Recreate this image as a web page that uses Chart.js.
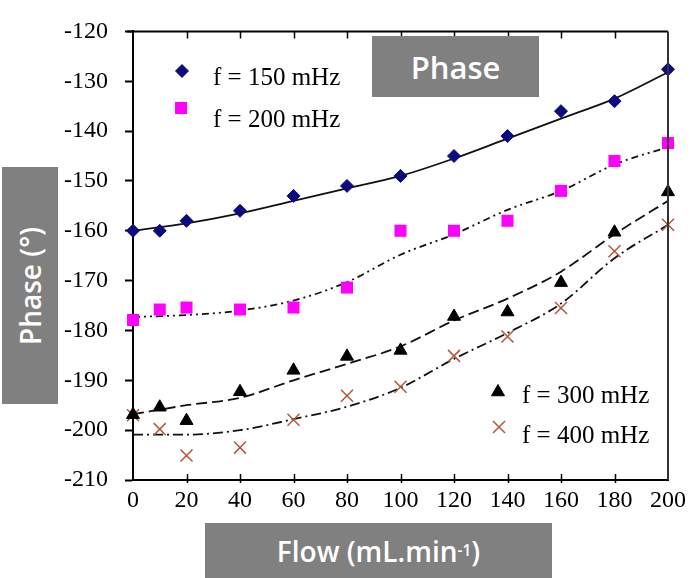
<!DOCTYPE html>
<html>
<head>
<meta charset="utf-8">
<script src="https://cdn.jsdelivr.net/npm/chart.js@4/dist/chart.umd.min.js"></script>
<style>
  html, body { margin: 0; padding: 0; background: #fff; }
  #wrap { position: relative; width: 692px; height: 578px; overflow: hidden; }
  #c { position: absolute; left: 0; top: 0; }
  .tag {
    position: absolute; background: #808080; color: #fff;
    font-family: "Open Sans", "Noto Sans", sans-serif; font-weight: 600;
    display: flex; align-items: center; justify-content: center;
  }
  .tag sup { font-size: 0.55em; vertical-align: 0.8em; line-height: 0; }
</style>
</head>
<body>
<div id="wrap">
  <canvas id="c" width="692" height="578"></canvas>
  <div class="tag" style="left:372px;top:36px;width:167px;height:61px;font-size:31px;">Phase</div>
  <div class="tag" style="left:2px;top:167px;width:56px;height:237px;">
    <span style="display:inline-block;transform:rotate(-90deg);white-space:nowrap;font-size:28px;">Phase (°)</span>
  </div>
  <div class="tag" style="left:205px;top:523px;width:347px;height:55px;font-size:28px;">Flow (mL.min<sup>-1</sup>)</div>
</div>
<script>
// Measured phase (degrees) against flow rate (mL/min) at four frequencies
const flow = [0, 10, 20, 40, 60, 80, 100, 120, 140, 160, 180, 200];
const phase150 = [-160, -160, -158, -156, -153, -151, -149, -145, -141, -136, -134, -127.6];
const phase200 = [-177.9, -175.8, -175.4, -175.8, -175.4, -171.4, -160, -160, -158, -152, -146, -142.4];
const phase300 = [-196.9, -195.4, -198.1, -192.3, -188, -185.2, -184, -177.2, -176.3, -170.4, -160.3, -152.2];
const phase400 = [-197, -199.8, -205.1, -203.5, -197.9, -193.1, -191.3, -185.1, -181.2, -175.5, -164.1, -158.8];

// Fitted trend curves
const fitFlow = [0, 20, 40, 60, 80, 100, 120, 140, 160, 180, 200];
const fit150 = [-160, -158.5, -156.5, -154, -151.5, -149, -145.5, -141.5, -137.5, -133.5, -128.2];
const fit200 = [-177.3, -176.9, -176, -174, -170.3, -164.8, -160.7, -155.8, -152, -146.7, -143.2];
const fit300 = [-196.8, -195, -193.5, -190, -186.7, -183.2, -178, -173.6, -168.2, -160.7, -154];
const fit400 = [-200.9, -200.9, -200, -197.8, -195.3, -191.5, -185.7, -180.5, -174.6, -165.5, -158.8];

const xTicks = [0, 20, 40, 60, 80, 100, 120, 140, 160, 180, 200];
const yTicks = [-210, -200, -190, -180, -170, -160, -150, -140, -130, -120];

const seriesLabels = ['f = 150 mHz', 'f = 200 mHz', 'f = 300 mHz', 'f = 400 mHz'];

const pts = (xs, ys) => xs.map((x, i) => ({ x: x, y: ys[i] }));

const NAVY = '#0b0b7d', MAGENTA = '#ff00ff', BLACK = '#000000', RUST = '#b5583a';
const SERIF = '"Liberation Serif", "DejaVu Serif", serif';

const markerSets = [
  { label: seriesLabels[0], data: pts(flow, phase150), pointStyle: 'rectRot', pointRadius: 6.5, backgroundColor: NAVY, borderColor: NAVY, borderWidth: 1 },
  { label: seriesLabels[1], data: pts(flow, phase200), pointStyle: 'rect', pointRadius: 8.5, backgroundColor: MAGENTA, borderColor: MAGENTA, borderWidth: 0 },
  { label: seriesLabels[2], data: pts(flow, phase300), pointStyle: 'triangle', pointRadius: 7.5, backgroundColor: BLACK, borderColor: BLACK, borderWidth: 1 },
  { label: seriesLabels[3], data: pts(flow, phase400), pointStyle: 'crossRot', pointRadius: 8.5, backgroundColor: RUST, borderColor: RUST, borderWidth: 1.5 }
].map(d => Object.assign(d, { showLine: false, clip: false, pointHoverRadius: d.pointRadius }));

const trend = (data, dash) => ({
  label: 'fit', data: data, showLine: true, pointRadius: 0, pointHoverRadius: 0,
  borderColor: '#111', borderWidth: 1.8, borderDash: dash, fill: false,
  cubicInterpolationMode: 'monotone', clip: false
});

const trendSets = [
  trend(pts(fitFlow, fit150), []),
  trend(pts(fitFlow, fit200), [7, 4, 2, 4, 2, 4]),
  trend(pts(fitFlow, fit300), [11, 5]),
  trend(pts(fitFlow, fit400), [10, 4, 2, 4])
];

function marker(ctx, style, r, x, y, fill, stroke, lw) {
  const opts = { pointStyle: style, radius: r, rotation: 0, borderWidth: lw };
  ctx.save();
  ctx.fillStyle = fill;
  ctx.strokeStyle = stroke;
  ctx.lineWidth = lw;
  Chart.helpers.drawPoint(ctx, opts, x, y);
  ctx.restore();
}

// Frame, inward ticks and the in-plot legend
const framePlugin = {
  id: 'frame',
  afterDraw(chart) {
    const { ctx, chartArea: a, scales } = chart;
    const xs = scales.x;
    ctx.save();
    ctx.strokeStyle = '#000';
    ctx.lineWidth = 2;
    ctx.beginPath();
    ctx.moveTo(a.left - 6, a.top);
    ctx.lineTo(a.right, a.top);
    ctx.stroke();
    ctx.strokeStyle = '#333';
    ctx.lineWidth = 2;
    ctx.beginPath();
    ctx.moveTo(a.right, a.top);
    ctx.lineTo(a.right, a.bottom);
    ctx.stroke();
    ctx.strokeStyle = '#000';
    ctx.lineWidth = 1.5;
    xTicks.slice(1, -1).forEach(v => {
      const px = Math.round(xs.getPixelForValue(v)) + 0.5;
      ctx.beginPath();
      ctx.moveTo(px, a.top);
      ctx.lineTo(px, a.top + 7);
      ctx.moveTo(px, a.bottom + 3);
      ctx.lineTo(px, a.bottom - 6);
      ctx.stroke();
    });
    ctx.restore();

    const items = [
      { i: 0, mx: 182, my: 71, tx: 213, ty: 85 },
      { i: 1, mx: 181, my: 108, tx: 213, ty: 127 },
      { i: 2, mx: 498, my: 392, tx: 522, ty: 403 },
      { i: 3, mx: 499, my: 427, tx: 522, ty: 443 }
    ];
    items.forEach(it => {
      const d = markerSets[it.i];
      marker(ctx, d.pointStyle, d.pointRadius, it.mx, it.my, d.backgroundColor, d.borderColor, d.borderWidth);
      ctx.save();
      ctx.fillStyle = '#000';
      ctx.font = '25px ' + SERIF;
      ctx.textBaseline = 'alphabetic';
      ctx.textAlign = 'left';
      ctx.fillText(d.label, it.tx, it.ty);
      ctx.restore();
    });
  }
};

new Chart(document.getElementById('c'), {
  type: 'scatter',
  data: { datasets: markerSets.concat(trendSets) },
  options: {
    responsive: false,
    animation: false,
    layout: { padding: { top: 18, right: 20, left: 0, bottom: 0 } },
    plugins: { legend: { display: false }, tooltip: { enabled: false }, title: { display: false } },
    scales: {
      x: {
        type: 'linear', min: 0, max: 200,
        afterBuildTicks: s => { s.ticks = xTicks.map(v => ({ value: v })); },
        afterFit: s => { s.height = 98; },
        ticks: { color: '#000', font: { family: SERIF, size: 24 }, padding: 6, maxRotation: 0, autoSkip: false },
        grid: { drawOnChartArea: false, drawTicks: false },
        border: { display: true, color: '#000', width: 2 }
      },
      y: {
        type: 'linear', min: -210, max: -120,
        afterBuildTicks: s => { s.ticks = yTicks.map(v => ({ value: v })); },
        afterFit: s => { s.width = 133; },
        ticks: { color: '#000', font: { family: SERIF, size: 24 }, padding: 17, autoSkip: false },
        grid: { drawOnChartArea: false, drawTicks: true, tickLength: 8, tickColor: '#000', tickWidth: 2 },
        border: { display: true, color: '#000', width: 2 }
      }
    }
  },
  plugins: [framePlugin]
});
</script>
</body>
</html>
